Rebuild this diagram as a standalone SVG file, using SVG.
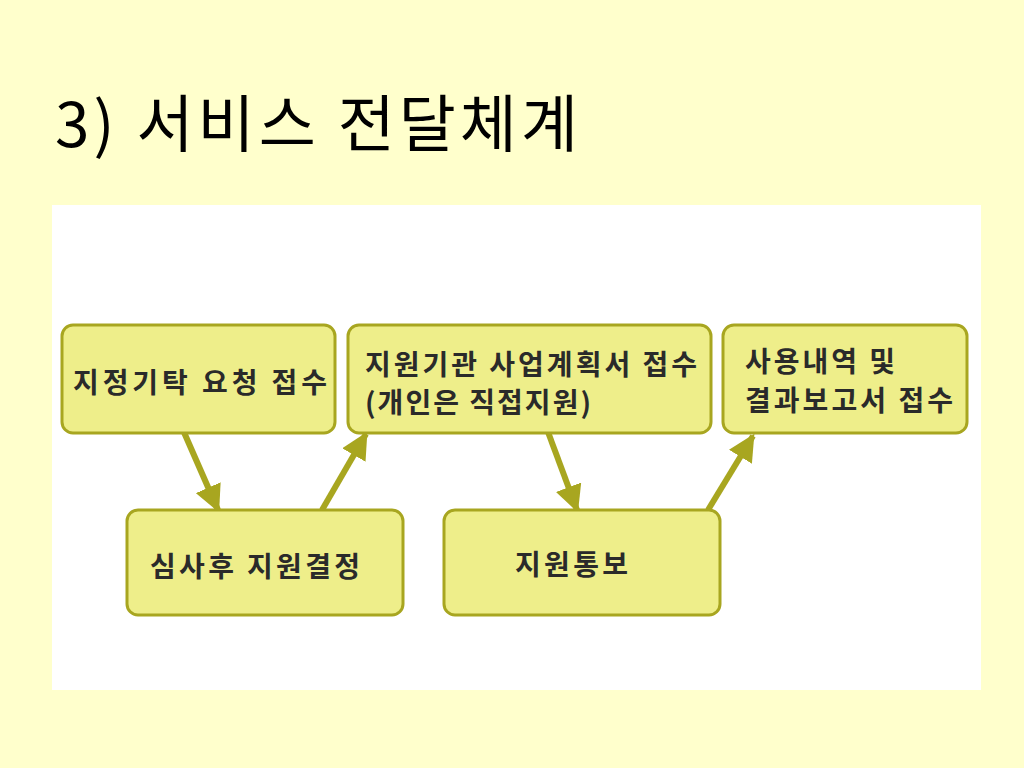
<svg xmlns="http://www.w3.org/2000/svg" width="1024" height="768" viewBox="0 0 1024 768">
<defs>
<style>
.bx{fill:#EEEE8A;stroke:#A8A620;stroke-width:3}
.t{font-family:"Noto Sans CJK KR","Noto Sans",sans-serif;font-size:28px;fill:#2a2a2a;font-weight:bold}
.ttl{font-family:"Noto Sans CJK KR","Noto Sans",sans-serif;font-size:62px;fill:#000;font-weight:normal}
.ln{stroke:#A8A620;stroke-width:6;fill:none;marker-end:url(#ah)}
</style>
<marker id="ah" viewBox="0 0 10 10" refX="9" refY="5" markerWidth="4.5" markerHeight="4.5" orient="auto" markerUnits="strokeWidth">
<path d="M0,0 L10,5 L0,10 z" fill="#A8A620"/>
</marker>
</defs>
<rect width="1024" height="768" fill="#FFFFCC"/>
<text class="ttl" x="55" y="147" textLength="523">3) 서비스 전달체계</text>
<rect x="52" y="205" width="929" height="485" fill="#FFFFFF"/>
<g id="connectors">
<line class="ln" x1="183" y1="430" x2="218" y2="510"/>
<line class="ln" x1="322" y1="510" x2="366" y2="434"/>
<line class="ln" x1="548" y1="432" x2="577" y2="510"/>
<line class="ln" x1="708" y1="510" x2="753" y2="436"/>
</g>
<g id="n1"><rect class="bx" x="62" y="325" width="273" height="108" rx="11"/>
<text class="t" x="73" y="393" textLength="254">지정기탁 요청 접수</text></g>
<g id="n2"><rect class="bx" x="348" y="325" width="363" height="108" rx="11"/>
<text class="t" x="365" y="375" textLength="332">지원기관 사업계획서 접수</text>
<text class="t" x="365" y="413" textLength="226">(개인은 직접지원)</text></g>
<g id="n3"><rect class="bx" x="723" y="325" width="244" height="108" rx="11"/>
<text class="t" x="745" y="372" textLength="150">사용내역 및</text>
<text class="t" x="745" y="411" textLength="208">결과보고서 접수</text></g>
<g id="n4"><rect class="bx" x="127" y="510" width="276" height="105" rx="11"/>
<text class="t" x="150" y="577" textLength="210">심사후 지원결정</text></g>
<g id="n5"><rect class="bx" x="444" y="510" width="276" height="105" rx="11"/>
<text class="t" x="515" y="575" textLength="113">지원통보</text></g>
</svg>
